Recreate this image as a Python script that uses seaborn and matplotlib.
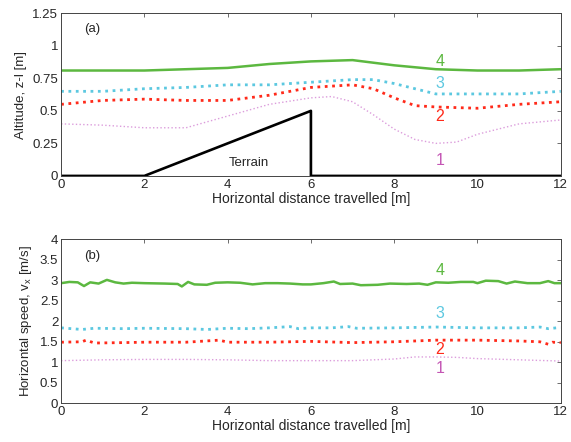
import numpy as np
import pandas as pd
import matplotlib
matplotlib.use("Agg")
import matplotlib.pyplot as plt
from matplotlib.ticker import FuncFormatter
import seaborn as sns

# altitude curves (panel a)
x1a = [0, 1, 2, 3, 4, 5, 6, 6.5, 7, 7.5, 8, 8.5, 9, 9.5, 10, 11, 12]
y1a = [0.40, 0.39, 0.37, 0.37, 0.46, 0.55, 0.60, 0.61, 0.57, 0.47, 0.36, 0.28, 0.25, 0.26, 0.32, 0.40, 0.43]
x2a = [0, 1, 2, 3, 4, 5, 6, 7, 7.5, 8, 8.5, 9, 10, 11, 12]
y2a = [0.55, 0.58, 0.59, 0.58, 0.58, 0.62, 0.68, 0.70, 0.67, 0.60, 0.54, 0.53, 0.52, 0.55, 0.57]
x3a = [0, 1, 2, 3, 4, 5, 6, 7, 7.5, 8, 8.5, 9, 10, 11, 12]
y3a = [0.65, 0.65, 0.67, 0.68, 0.70, 0.70, 0.72, 0.74, 0.74, 0.71, 0.67, 0.63, 0.63, 0.63, 0.65]
x4a = [0, 1, 2, 3, 4, 5, 6, 7, 8, 9, 10, 11, 12]
y4a = [0.81, 0.81, 0.81, 0.82, 0.83, 0.86, 0.88, 0.89, 0.85, 0.82, 0.81, 0.81, 0.82]
terrain_x = [0, 2, 6, 6, 12]
terrain_y = [0, 0, 0.5, 0, 0]

# horizontal speed curves (panel b)
x1b = [0, 1, 2, 3, 4, 5, 6, 7, 8, 8.5, 9, 9.5, 10, 11, 12]
y1b = [1.04, 1.06, 1.07, 1.07, 1.06, 1.04, 1.04, 1.04, 1.08, 1.13, 1.13, 1.12, 1.09, 1.06, 1.03]
x2b = [0, 0.5, 0.6, 0.8, 1.5, 2, 3, 3.8, 4, 5, 6, 7, 8, 8.5, 9, 10, 11, 11.5, 11.7, 11.8, 12]
y2b = [1.49, 1.50, 1.54, 1.47, 1.48, 1.49, 1.49, 1.54, 1.49, 1.49, 1.51, 1.48, 1.50, 1.52, 1.54, 1.54, 1.52, 1.50, 1.44, 1.49, 1.48]
x3b = [0, 0.5, 0.8, 1.5, 2, 3, 3.5, 4, 4.5, 5, 5.5, 5.7, 6, 6.5, 6.9, 7.1, 8, 9, 10, 11, 11.5, 11.7, 12]
y3b = [1.84, 1.80, 1.83, 1.82, 1.83, 1.82, 1.80, 1.83, 1.82, 1.84, 1.87, 1.82, 1.84, 1.84, 1.87, 1.83, 1.84, 1.86, 1.84, 1.84, 1.86, 1.82, 1.85]
x4b = [0, 0.2, 0.4, 0.55, 0.7, 0.9, 1.1, 1.3, 1.5, 1.7, 2, 2.5, 2.8, 2.9, 3.05, 3.2, 3.5, 3.7, 4, 4.3,
       4.6, 4.9, 5.2, 5.5, 5.8, 6, 6.3, 6.55, 6.7, 7, 7.2, 7.6, 7.9, 8.3, 8.6, 8.8, 9.0, 9.3, 9.6, 9.9,
       10, 10.2, 10.5, 10.7, 10.9, 11.2, 11.5, 11.7, 11.85, 12]
y4b = [2.93, 2.96, 2.95, 2.86, 2.95, 2.92, 3.01, 2.95, 2.92, 2.94, 2.93, 2.92, 2.91, 2.85, 2.96, 2.90, 2.89, 2.94, 2.95, 2.94,
       2.90, 2.93, 2.93, 2.92, 2.90, 2.90, 2.93, 2.97, 2.91, 2.92, 2.88, 2.89, 2.92, 2.91, 2.92, 2.89, 2.95, 2.94, 2.96, 2.96,
       2.93, 2.99, 2.98, 2.92, 2.97, 2.93, 2.93, 2.98, 2.93, 2.93]

labels = ["1", "2", "3", "4"]
label_y_a = [0.12, 0.46, 0.71, 0.88]
label_y_b = [0.85, 1.30, 2.20, 3.25]

line_colors = ["#dc9ddc", "#ff2a1a", "#5cc8e0", "#5cb840"]
text_colors = ["#c455b4", "#ff2a1a", "#5cc8e0", "#5cb840"]
styles = [(":", 1.0), (":", 2.0), (":", 2.0), ("-", 1.8)]

sns.set_style("white")
plt.rcParams["font.family"] = ["Liberation Sans", "DejaVu Sans"]
plt.rcParams["mathtext.default"] = "regular"

fig = plt.figure(figsize=(5.71, 4.42), dpi=100)
ax1 = fig.add_axes([0.107, 0.602, 0.875, 0.368])
ax2 = fig.add_axes([0.107, 0.0876, 0.875, 0.371])

fmt = FuncFormatter(lambda v, p: "{:g}".format(v))

series_a = [(x1a, y1a), (x2a, y2a), (x3a, y3a), (x4a, y4a)]
series_b = [(x1b, y1b), (x2b, y2b), (x3b, y3b), (x4b, y4b)]

for ax, series, ly in [(ax1, series_a, label_y_a), (ax2, series_b, label_y_b)]:
    for (xs, ys), c, tc, (ls, lw), lab, yy in zip(series, line_colors, text_colors, styles, labels, ly):
        df = pd.DataFrame({"x": xs, "y": ys})
        sns.lineplot(data=df, x="x", y="y", ax=ax, color=c, linestyle=ls, linewidth=lw,
                     sort=False, estimator=None, errorbar=None)
        ax.text(9.1, yy, lab, color=tc, fontsize=11.5, ha="center", va="center")

tdf = pd.DataFrame({"x": terrain_x, "y": terrain_y})
sns.lineplot(data=tdf, x="x", y="y", ax=ax1, color="black", linewidth=1.9,
             sort=False, estimator=None, errorbar=None)
ax1.text(4.5, 0.1, "Terrain", fontsize=9.5, ha="center", va="center")
ax1.text(0.55, 1.13, "(a)", fontsize=9.5, ha="left", va="center")
ax2.text(0.55, 3.6, "(b)", fontsize=9.5, ha="left", va="center")

ax1.set_ylim(0, 1.25)
ax1.set_yticks([0, 0.25, 0.5, 0.75, 1, 1.25])
ax1.set_ylabel("Altitude, z-l [m]", fontsize=9.5)
ax2.set_ylim(0, 4)
ax2.set_yticks(np.arange(0, 4.01, 0.5))
ax2.set_ylabel("Horizontal speed, v$_x$ [m/s]", fontsize=9.5)

for ax in (ax1, ax2):
    ax.set_xlim(0, 12)
    ax.set_xticks(range(0, 13, 2))
    ax.xaxis.set_major_formatter(fmt)
    ax.yaxis.set_major_formatter(fmt)
    ax.set_xlabel("Horizontal distance travelled [m]", fontsize=10, labelpad=1)
    ax.tick_params(direction="in", top=True, right=True, length=3, width=0.6,
                   labelsize=9.5, color="#555555", pad=2)
    for s in ax.spines.values():
        s.set_linewidth(0.7)
        s.set_color("#444444")

fig.savefig("out.png", dpi=100)
